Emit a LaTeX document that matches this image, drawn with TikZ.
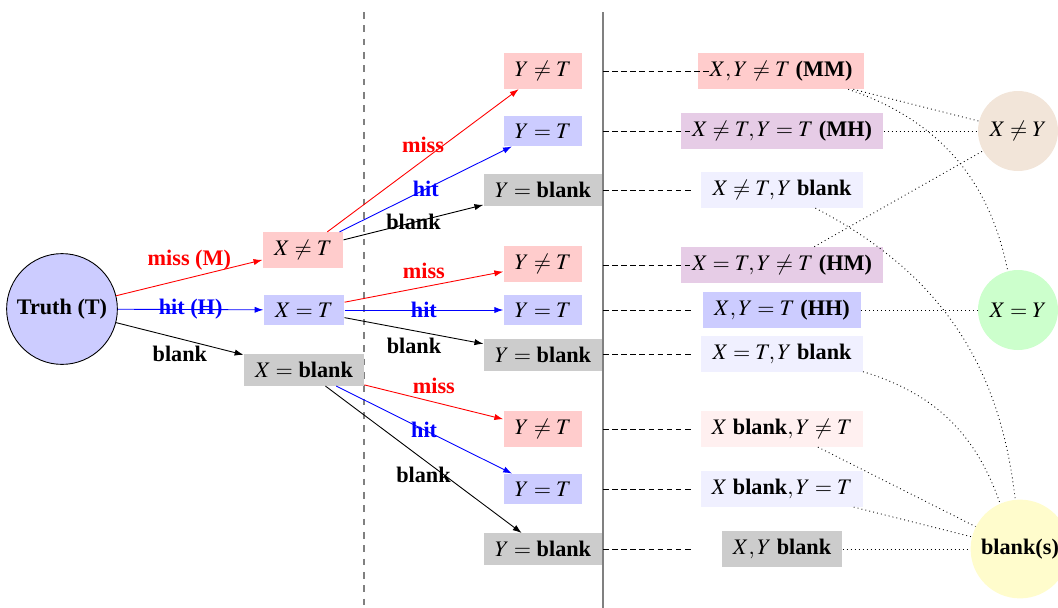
\documentclass[tikz,border=0pt]{standalone}
\usepackage{mathptmx}
\usepackage{fontspec}
\setmainfont{Liberation Serif}
\usetikzlibrary{arrows.meta}
\definecolor{mixc}{RGB}{230,204,230}
\definecolor{lblue}{RGB}{240,240,255}
\definecolor{lred}{RGB}{255,240,240}
\tikzset{
  box/.style={inner xsep=5pt, inner ysep=3.5pt},
  circ/.style={circle, inner sep=3.33pt, minimum size=36pt},
  lbl/.style={font=\bfseries, inner sep=3.33pt},
  arr/.style={thin, -{Latex[length=4pt,width=2.8pt]}},
  dsh/.style={thin, dash pattern=on 2.5pt off 1.6pt},
  dot/.style={thin, dash pattern=on 0.4pt off 1.4pt},
  vline/.style={line width=0.8pt, black!50}
}
\begin{document}
\begin{tikzpicture}[x=0.45pt, y=-0.45pt]
\useasboundingbox (0,0) rectangle (1058,607);

% vertical separators
\coordinate (va) at (364,12);
\coordinate (vb) at (364,640);
\coordinate (vc) at (603,12);
\coordinate (vd) at (603,640);
\draw[vline, dashed] (va) -- (vb);
\draw[vline] (vc) -- (vd);

% root
\node[circle, draw, fill=blue!20, inner sep=3.33pt] (T) at (62,309) {\textbf{Truth (T)}};

% first level
\node[box, fill=red!20]  (X1) at (303,250) {$X \neq T$};
\node[box, fill=blue!20] (X2) at (304,310) {$X = T$};
\node[box, fill=black!20] (X3) at (304,370) {$X = $ \textbf{blank}};

% second level
\node[box, fill=red!20]  (Y11) at (543,71)  {$Y \neq T$};
\node[box, fill=blue!20] (Y12) at (543,131) {$Y = T$};
\node[box, fill=black!20] (Y13) at (543,190) {$Y = $ \textbf{blank}};
\node[box, fill=red!20]  (Y21) at (543,264) {$Y \neq T$};
\node[box, fill=blue!20] (Y22) at (543,310) {$Y = T$};
\node[box, fill=black!20] (Y23) at (543,355) {$Y = $ \textbf{blank}};
\node[box, fill=red!20]  (Y31) at (543,429) {$Y \neq T$};
\node[box, fill=blue!20] (Y32) at (543,489) {$Y = T$};
\node[box, fill=black!20] (Y33) at (543,549) {$Y = $ \textbf{blank}};

% outcomes
\node[box, fill=red!20]  (O11) at (781,71)  {$X, Y \neq T$ \textbf{(MM)}};
\node[box, fill=mixc]    (O12) at (782,131) {$X \neq T, Y = T$ \textbf{(MH)}};
\node[box, fill=lblue]   (O13) at (782,190) {$X \neq T, Y$ \textbf{blank}};
\node[box, fill=mixc]    (O21) at (782,265) {$X = T, Y \neq T$ \textbf{(HM)}};
\node[box, fill=blue!20] (O22) at (782,310) {$X, Y = T$ \textbf{(HH)}};
\node[box, fill=lblue]   (O23) at (782,354) {$X = T, Y$ \textbf{blank}};
\node[box, fill=lred]    (O31) at (782,429) {$X$ \textbf{blank}$, Y \neq T$};
\node[box, fill=lblue]   (O32) at (782,489) {$X$ \textbf{blank}$, Y = T$};
\node[box, fill=black!20] (O33) at (782,549) {$X, Y$ \textbf{blank}};

% classes
\node[circ, fill=brown!20]  (C1) at (1018,131) {$X \neq Y$};
\node[circ, fill=green!20]  (C2) at (1018,310) {$X = Y$};
\node[circ, fill=yellow!20] (C3) at (1020,549) {\textbf{blank(s)}};

% first level edges
\draw[arr, red]  (T) -- node[midway, above, lbl, text=red] {miss (M)} (X1);
\draw[arr, blue] (T) -- node[midway, lbl, text=blue] {hit (H)} (X2);
\draw[arr, black] (T) -- node[midway, below, lbl] {blank} (X3);

% second level edges
\draw[arr, red]  (X1) -- node[midway, above, lbl, text=red] {miss} (Y11);
\draw[arr, blue] (X1) -- node[midway, lbl, text=blue] {hit} (Y12);
\draw[arr, black] (X1) -- node[midway, lbl] {blank} (Y13);
\draw[arr, red]  (X2) -- node[midway, above, lbl, text=red] {miss} (Y21);
\draw[arr, blue] (X2) -- node[midway, lbl, text=blue] {hit} (Y22);
\draw[arr, black] (X2) -- node[midway, below, lbl] {blank} (Y23);
\draw[arr, red]  (X3) -- node[midway, above, lbl, text=red] {miss} (Y31);
\draw[arr, blue] (X3) -- node[midway, lbl, text=blue] {hit} (Y32);
\draw[arr, black] (X3) -- node[midway, below, lbl] {blank} (Y33);

% dashed guides
\coordinate (h1s) at (603,71);  \coordinate (h1e) at (712,71);
\coordinate (h2s) at (603,131); \coordinate (h2e) at (690,131);
\coordinate (h3s) at (603,190); \coordinate (h3e) at (693,190);
\coordinate (h4s) at (603,265); \coordinate (h4e) at (690,265);
\coordinate (h5s) at (603,310); \coordinate (h5e) at (693,310);
\coordinate (h6s) at (603,354); \coordinate (h6e) at (693,354);
\coordinate (h7s) at (603,429); \coordinate (h7e) at (693,429);
\coordinate (h8s) at (603,489); \coordinate (h8e) at (693,489);
\coordinate (h9s) at (603,549); \coordinate (h9e) at (693,549);
\foreach \i in {1,...,9} { \draw[dsh] (h\i s) -- (h\i e); }

% dotted classification links
\draw[dot] (O11) -- (C1);
\draw[dot] (O11) to[bend left=30] (C2);
\draw[dot] (O12) -- (C1);
\draw[dot] (O21) -- (C1);
\draw[dot] (O13) to[bend left=28] (C3);
\draw[dot] (O22) -- (C2);
\draw[dot] (O23) to[bend left=27] (C3);
\draw[dot] (O31) -- (C3);
\draw[dot] (O32) -- (C3);
\draw[dot] (O33) -- (C3);
\end{tikzpicture}
\end{document}
